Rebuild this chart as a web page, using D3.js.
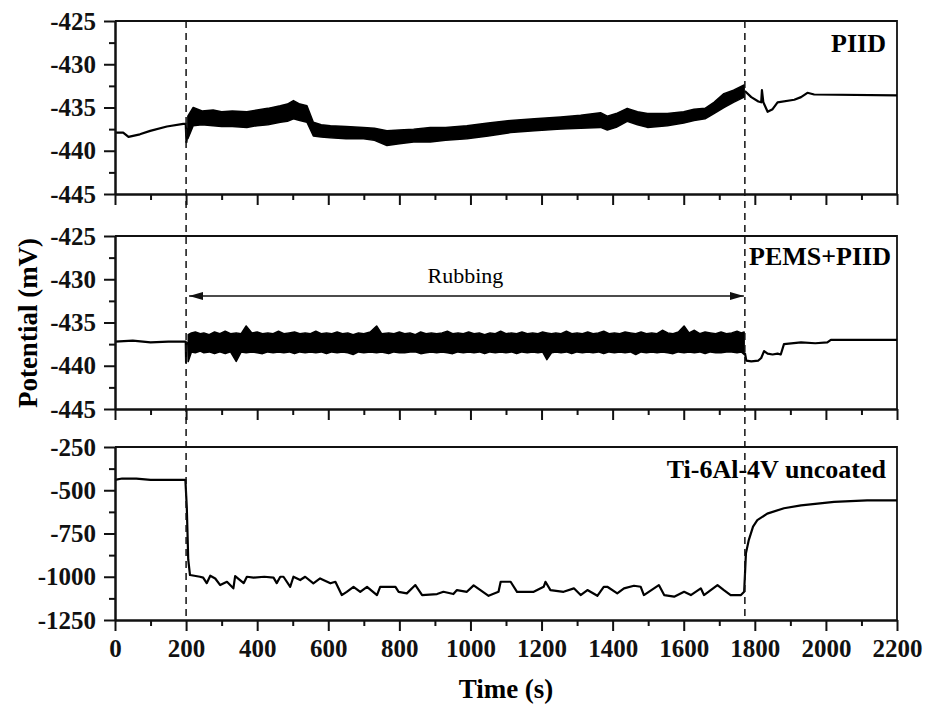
<!DOCTYPE html>
<html>
<head>
<meta charset="utf-8">
<script src="https://cdn.jsdelivr.net/npm/d3@7"></script>
<style>
  body { margin: 0; background: #fff; }
  .axis path, .axis line { stroke: #111; stroke-width: 2; }
</style>
</head>
<body>
<svg width="925" height="713" font-family="'Liberation Serif', 'Times New Roman', serif"></svg>
<script>
// time axis
const xTicks = [0, 200, 400, 600, 800, 1000, 1200, 1400, 1600, 1800, 2000, 2200];
const xMinor = [100, 300, 500, 700, 900, 1100, 1300, 1500, 1700, 1900, 2100];
const rubStart = 200, rubEnd = 1772;

// PIID panel
const piidTicks = [-425, -430, -435, -440, -445];
const piidMinor = [-427.5, -432.5, -437.5, -442.5];
const piidPreT = [0, 23, 38, 70, 99, 146, 192, 199, 201, 205];
const piidPreV = [-437.9, -437.9, -438.4, -438.1, -437.7, -437.2, -436.9, -436.9, -439.0, -437.4];
const piidBandT = [205, 220, 245, 276, 300, 330, 371, 400, 430, 465, 485, 502, 520, 540, 558, 580, 606, 650, 699, 730, 765, 800, 840, 887, 930, 990, 1050, 1113, 1180, 1254, 1310, 1366, 1385, 1410, 1441, 1470, 1498, 1554, 1600, 1629, 1660, 1685, 1713, 1740, 1770];
const piidUpper = [-436.0, -435.0, -435.4, -435.3, -435.5, -435.4, -435.5, -435.3, -435.1, -434.8, -434.6, -434.2, -434.6, -434.8, -436.7, -437.0, -437.1, -437.2, -437.3, -437.4, -437.7, -437.6, -437.5, -437.3, -437.3, -437.1, -436.8, -436.5, -436.3, -436.1, -435.9, -435.6, -436.0, -435.7, -435.1, -435.5, -435.7, -435.7, -435.5, -435.2, -435.1, -434.4, -433.4, -433.0, -432.4];
const piidLower = [-438.6, -437.1, -437.0, -437.1, -437.2, -437.2, -437.3, -437.1, -437.0, -436.7, -436.6, -436.3, -436.5, -436.7, -438.3, -438.4, -438.5, -438.6, -438.6, -438.8, -439.4, -439.2, -439.0, -439.0, -438.8, -438.6, -438.3, -437.9, -437.7, -437.5, -437.4, -437.3, -437.6, -437.3, -436.6, -437.0, -437.3, -437.1, -436.8, -436.5, -436.3, -435.7, -435.0, -434.4, -433.8];
const piidPostT = [1772, 1790, 1810, 1818, 1820, 1824, 1836, 1850, 1864, 1911, 1930, 1948, 1967, 2200];
const piidPostV = [-433.1, -433.8, -434.3, -434.4, -433.0, -434.4, -435.5, -435.2, -434.4, -434.1, -433.8, -433.3, -433.5, -433.6];

// PEMS+PIID panel
const pemsTicks = [-425, -430, -435, -440, -445];
const pemsMinor = [-427.5, -432.5, -437.5, -442.5];
const pemsPreT = [0, 50, 100, 150, 199, 200, 202, 206];
const pemsPreV = [-437.2, -437.1, -437.3, -437.2, -437.2, -439.6, -437.5, -437.3];
const pemsBandT = [206, 215, 226, 240, 250, 265, 280, 295, 310, 325, 341, 355, 369, 385, 400, 415, 430, 445, 460, 475, 490, 505, 520, 535, 550, 565, 580, 595, 610, 625, 640, 655, 670, 685, 700, 718, 736, 750, 770, 785, 800, 815, 830, 845, 860, 875, 890, 905, 920, 935, 950, 965, 980, 995, 1010, 1025, 1040, 1055, 1070, 1085, 1100, 1115, 1130, 1145, 1160, 1175, 1190, 1203, 1215, 1228, 1240, 1255, 1270, 1285, 1300, 1315, 1330, 1345, 1360, 1375, 1390, 1405, 1420, 1435, 1450, 1465, 1480, 1495, 1510, 1525, 1540, 1555, 1570, 1585, 1601, 1615, 1630, 1645, 1660, 1675, 1690, 1705, 1720, 1735, 1750, 1762, 1770];
const pemsUpper = [-436.4, -436.2, -436.1, -436.3, -436.2, -436.4, -436.1, -436.3, -436.0, -436.3, -436.2, -436.3, -435.4, -436.2, -436.1, -436.3, -436.2, -436.3, -436.0, -436.3, -436.2, -436.1, -436.3, -436.2, -436.3, -436.0, -436.3, -436.2, -436.3, -436.1, -436.3, -436.2, -436.4, -436.2, -436.3, -436.1, -435.4, -436.3, -436.2, -436.3, -436.1, -436.3, -436.2, -436.4, -436.1, -436.3, -436.2, -436.3, -436.2, -436.0, -436.3, -436.2, -436.3, -436.1, -436.3, -436.2, -436.4, -436.2, -436.3, -436.0, -436.3, -436.2, -436.3, -436.1, -436.3, -436.2, -436.3, -436.1, -436.2, -436.3, -436.2, -436.3, -436.0, -436.3, -436.2, -436.3, -436.1, -436.3, -436.2, -436.0, -436.3, -436.2, -436.3, -436.1, -436.2, -436.3, -436.1, -436.3, -436.2, -436.3, -435.9, -436.2, -436.3, -436.1, -435.4, -436.2, -435.9, -436.3, -436.1, -436.2, -436.3, -436.1, -436.3, -436.2, -436.0, -436.2, -436.1];
const pemsLower = [-439.5, -438.4, -438.5, -438.3, -438.5, -438.4, -438.6, -438.4, -438.6, -438.4, -439.5, -438.4, -438.5, -438.4, -438.5, -438.6, -438.4, -438.5, -438.4, -438.5, -438.4, -438.6, -438.4, -438.5, -438.4, -438.5, -438.4, -438.6, -438.4, -438.5, -438.4, -438.5, -438.7, -438.4, -438.5, -438.4, -438.5, -438.4, -438.6, -438.4, -438.5, -438.5, -438.4, -438.4, -438.6, -438.5, -438.4, -438.5, -438.4, -438.5, -438.6, -438.4, -438.5, -438.4, -438.5, -438.4, -438.6, -438.4, -438.5, -438.4, -438.5, -438.4, -438.6, -438.4, -438.5, -438.4, -438.5, -438.4, -439.3, -438.5, -438.4, -438.5, -438.4, -438.6, -438.4, -438.5, -438.4, -438.5, -438.4, -438.6, -438.4, -438.5, -438.4, -438.5, -438.4, -438.7, -438.4, -438.5, -438.4, -438.5, -438.4, -438.5, -438.6, -438.4, -438.5, -438.4, -438.5, -438.4, -438.6, -438.4, -438.5, -438.5, -438.4, -438.4, -438.5, -438.4, -438.7];
const pemsPostT = [1772, 1776, 1790, 1810, 1818, 1826, 1836, 1850, 1864, 1873, 1882, 1930, 1970, 2004, 2014, 2100, 2200];
const pemsPostV = [-438.5, -439.4, -439.5, -439.4, -439.1, -438.3, -438.6, -438.7, -438.6, -438.7, -437.5, -437.3, -437.4, -437.3, -437.0, -437.0, -437.0];

// Ti-6Al-4V uncoated panel
const uncTicks = [-250, -500, -750, -1000, -1250];
const uncMinor = [-375, -625, -875, -1125];
const uncT = [0, 20, 60, 100, 150, 198, 202, 206, 211, 239, 248, 258, 268, 282, 296, 315, 333, 338, 362, 371, 390, 420, 446, 455, 465, 474, 493, 502, 521, 535, 558, 577, 606, 620, 638, 652, 671, 690, 709, 737, 746, 789, 798, 821, 845, 864, 906, 924, 952, 962, 990, 1009, 1028, 1051, 1079, 1085, 1113, 1131, 1178, 1206, 1211, 1225, 1262, 1291, 1310, 1329, 1357, 1375, 1385, 1413, 1432, 1460, 1479, 1488, 1530, 1545, 1573, 1601, 1620, 1648, 1657, 1695, 1713, 1732, 1761, 1770, 1775, 1783, 1795, 1807, 1835, 1882, 1930, 2023, 2116, 2200];
const uncV = [-440, -432, -433, -440, -440, -440, -600, -900, -990, -1000, -1005, -1037, -994, -1010, -1048, -1029, -1067, -996, -1037, -1000, -1005, -1000, -1005, -1037, -1000, -1000, -1058, -1000, -1019, -1000, -1038, -1010, -1038, -1029, -1106, -1087, -1058, -1087, -1058, -1106, -1058, -1058, -1087, -1096, -1048, -1106, -1100, -1087, -1100, -1077, -1087, -1050, -1077, -1110, -1087, -1029, -1029, -1087, -1087, -1058, -1029, -1077, -1087, -1067, -1106, -1077, -1110, -1058, -1058, -1096, -1067, -1052, -1058, -1106, -1048, -1106, -1115, -1087, -1106, -1067, -1106, -1048, -1077, -1106, -1106, -1087, -865, -788, -710, -673, -635, -604, -587, -567, -558, -558];

const serif = "'Liberation Serif', 'Times New Roman', serif";
const svg = d3.select("svg");
const x = d3.scaleLinear().domain([0, 2200]).range([115, 897]);
const panelH = 173;

const zip = (t, v) => t.map((d, i) => ({ t: d, v: v[i] }));

const panels = [
  { top: 21, domain: [-445, -425], ticks: piidTicks, minor: piidMinor, label: "PIID",
    lines: [zip(piidPreT, piidPreV), zip(piidPostT, piidPostV)],
    band: piidBandT.map((d, i) => ({ t: d, hi: piidUpper[i], lo: piidLower[i] })) },
  { top: 236, domain: [-445, -425], ticks: pemsTicks, minor: pemsMinor, label: "PEMS+PIID",
    lines: [zip(pemsPreT, pemsPreV), zip(pemsPostT, pemsPostV)],
    band: pemsBandT.map((d, i) => ({ t: d, hi: pemsUpper[i], lo: pemsLower[i] })) },
  { top: 447, domain: [-1250, -250], ticks: uncTicks, minor: uncMinor, label: "Ti-6Al-4V uncoated",
    lines: [zip(uncT, uncV)], band: null }
];

// make the axis text serif bold (d3 sets sans-serif on the group)
function styleAxis(sel) {
  sel.attr("font-family", serif).attr("font-size", 25).attr("font-weight", "bold");
  sel.select(".domain").attr("stroke-width", 2.2);
  sel.selectAll("text").attr("fill", "#111");
}

panels.forEach((p, idx) => {
  const y = d3.scaleLinear().domain(p.domain).range([p.top + panelH, p.top]);
  const g = svg.append("g");

  // frame (top + right)
  g.append("path")
    .attr("d", `M${x(0)},${p.top}H${x(2200)}V${p.top + panelH}`)
    .attr("fill", "none").attr("stroke", "#111").attr("stroke-width", 1.8);

  // band of noisy data
  if (p.band) {
    g.append("path")
      .datum(p.band)
      .attr("d", d3.area().x(d => x(d.t)).y0(d => y(d.lo)).y1(d => y(d.hi)))
      .attr("fill", "#000").attr("stroke", "#000").attr("stroke-width", 1.5)
      .attr("stroke-linejoin", "round");
  }

  const line = d3.line().x(d => x(d.t)).y(d => y(d.v));
  p.lines.forEach(l => {
    g.append("path").datum(l)
      .attr("d", line)
      .attr("fill", "none").attr("stroke", "#000").attr("stroke-width", 2.2)
      .attr("stroke-linejoin", "round");
  });

  // axes
  g.append("g").attr("class", "axis")
    .attr("transform", `translate(${x(0)},0)`)
    .call(d3.axisLeft(y).tickValues(p.minor).tickSize(6).tickSizeOuter(0).tickFormat(""))
    .call(styleAxis);
  g.append("g").attr("class", "axis")
    .attr("transform", `translate(${x(0)},0)`)
    .call(d3.axisLeft(y).tickValues(p.ticks).tickSize(11).tickSizeOuter(0).tickPadding(8)
      .tickFormat(d => String(d)))
    .call(styleAxis);

  const bottom = p.top + panelH;
  g.append("g").attr("class", "axis")
    .attr("transform", `translate(0,${bottom})`)
    .call(d3.axisBottom(x).tickValues(xMinor).tickSize(6).tickSizeOuter(0).tickFormat(""))
    .call(styleAxis);
  g.append("g").attr("class", "axis")
    .attr("transform", `translate(0,${bottom})`)
    .call(d3.axisBottom(x).tickValues(xTicks).tickSize(11).tickSizeOuter(0).tickPadding(8)
      .tickFormat(idx === 2 ? (d => String(d)) : ""))
    .call(styleAxis);

  g.append("text")
    .attr("x", idx === 1 ? 891 : 886)
    .attr("y", p.top + (idx === 0 ? 31 : idx === 1 ? 29 : 31))
    .attr("text-anchor", "end")
    .attr("font-size", 26).attr("font-weight", "bold")
    .text(p.label);
});

// dashed markers for rubbing start / end
svg.selectAll(".marker")
  .data([rubStart, rubEnd])
  .enter().append("line")
  .attr("class", "marker")
  .attr("x1", d => x(d)).attr("x2", d => x(d))
  .attr("y1", 21).attr("y2", 620)
  .attr("stroke", "#111").attr("stroke-width", 1.5)
  .attr("stroke-dasharray", "7,5");

// rubbing arrow
const defs = svg.append("defs");
defs.append("marker")
  .attr("id", "head")
  .attr("viewBox", "0 0 14 8")
  .attr("refX", 14).attr("refY", 4)
  .attr("markerWidth", 14).attr("markerHeight", 8)
  .attr("markerUnits", "userSpaceOnUse")
  .attr("orient", "auto-start-reverse")
  .append("path").attr("d", "M0,0L14,4L0,8Z").attr("fill", "#111");

const arrowY = 296;
svg.append("line")
  .attr("x1", x(rubStart) + 3).attr("x2", x(rubEnd) - 1)
  .attr("y1", arrowY).attr("y2", arrowY)
  .attr("stroke", "#111").attr("stroke-width", 1.5)
  .attr("marker-start", "url(#head)").attr("marker-end", "url(#head)");

svg.append("text")
  .attr("x", (x(rubStart) + x(rubEnd)) / 2).attr("y", 283)
  .attr("text-anchor", "middle").attr("font-size", 22)
  .text("Rubbing");

// axis titles
svg.append("text")
  .attr("transform", "translate(37,323) rotate(-90)")
  .attr("text-anchor", "middle")
  .attr("font-size", 27).attr("font-weight", "bold")
  .text("Potential (mV)");

svg.append("text")
  .attr("x", (x(0) + x(2200)) / 2).attr("y", 698)
  .attr("text-anchor", "middle")
  .attr("font-size", 27).attr("font-weight", "bold")
  .text("Time (s)");
</script>
</body>
</html>
